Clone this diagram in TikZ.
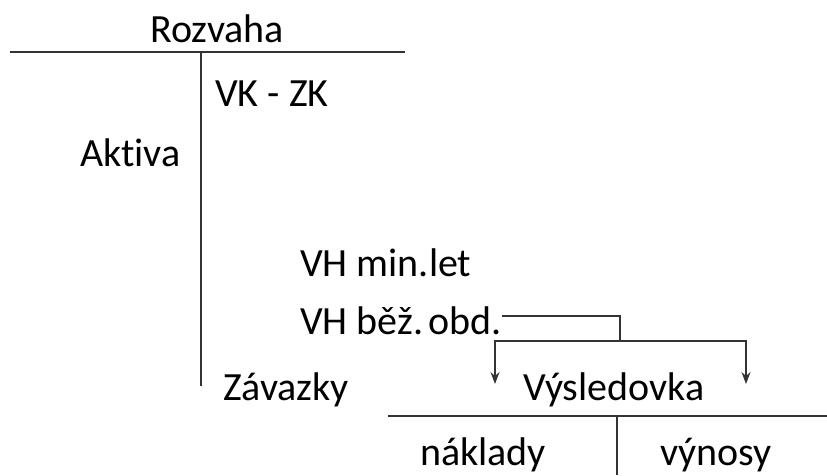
\documentclass[tikz,border=0pt]{standalone}
\usepackage{fontspec}
\setmainfont[Ligatures={NoCommon}]{Carlito}
\usetikzlibrary{arrows.meta}
\frenchspacing
\begin{document}
\begin{tikzpicture}[x=1pt,y=-1pt,
  lbl/.style={anchor=base west,inner sep=0pt,font=\fontsize{40}{44}\selectfont},
  rule/.style={line width=2pt,draw=black!80},
  conn/.style={line width=1.6pt,draw=black!80},
  arr/.style={conn,-{Stealth[length=12pt,width=9pt,inset=4pt]}}]
\useasboundingbox (0,0) rectangle (827,475);
% Rozvaha T-account
\node[lbl] (rozvaha) at (150,42) {Rozvaha};
\coordinate (rl) at (10,52);
\coordinate (rr) at (405,52);
\coordinate (rt) at (201,52);
\coordinate (rb) at (201,386);
\draw[rule] (rl) -- (rr);
\draw[rule] (rt) -- (rb);
\node[lbl] (vkzk) at (215,106) {VK - ZK};
\node[lbl] (aktiva) at (80,166) {Aktiva};
\node[lbl] (vhmin) at (300,276) {VH min.let};
\node[lbl] (vhbez) at (300,334) {VH běž.\hspace{5pt}obd.};
\node[lbl] (zavazky) at (223,400) {Závazky};
% Vysledovka T-account
\node[lbl] (vysl) at (523,400) {Výsledovka};
\coordinate (vl) at (388,416);
\coordinate (vr) at (827,416);
\coordinate (vt) at (617,416);
\coordinate (vb) at (617,475);
\draw[rule] (vl) -- (vr);
\draw[rule] (vt) -- (vb);
\node[lbl] (naklady) at (420,465) {náklady};
\node[lbl] (vynosy) at (660,465) {výnosy};
% connectors
\coordinate (c1) at (vhbez.base east);
\coordinate (c2) at (620,316);
\coordinate (c3) at (620,341);
\coordinate (s1) at (495,341);
\coordinate (s2) at (746,341);
\coordinate (a1) at (495,384);
\coordinate (a2) at (746,384);
\draw[conn] (c1 |- c2) -- (c2) -- (c3);
\draw[arr] (c3) -- (s1) -- (a1);
\draw[arr] (c3) -- (s2) -- (a2);
\end{tikzpicture}
\end{document}
